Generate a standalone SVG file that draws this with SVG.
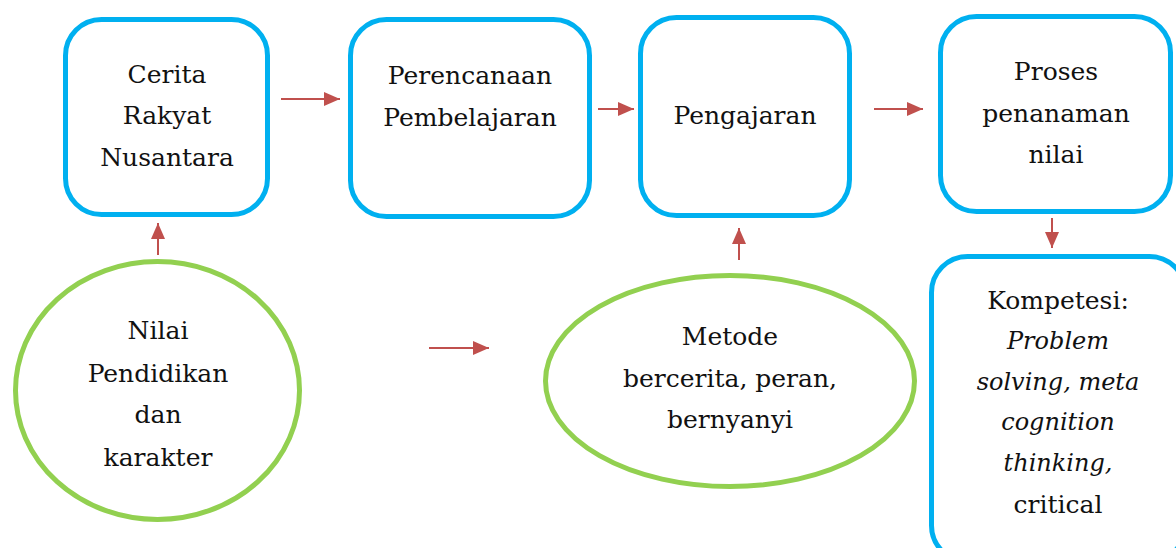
<svg xmlns="http://www.w3.org/2000/svg" width="1176" height="548" viewBox="0 0 1176 548">
<style>
.box{fill:#fff;stroke:#00b0f0;stroke-width:5}
.oval{fill:#fff;stroke:#92d050;stroke-width:5}
.t{font-family:"DejaVu Serif","Liberation Serif",serif;font-size:25px;fill:#111;text-anchor:middle}
.i{font-style:italic;font-size:24px}
.c{stroke:#c0504d;stroke-width:2;fill:none;marker-end:url(#ah)}
</style>
<defs>
<marker id="ah" markerUnits="userSpaceOnUse" markerWidth="16" markerHeight="14" refX="16" refY="7" orient="auto">
<path d="M0,0 L16,7 L0,14 z" fill="#c0504d"/>
</marker>
</defs>
<rect width="1176" height="548" fill="#fff"/>
<g id="connectors">
<line class="c" x1="281" y1="99" x2="340" y2="99"/>
<line class="c" x1="598" y1="109" x2="634" y2="109"/>
<line class="c" x1="874" y1="109" x2="923" y2="109"/>
<line class="c" x1="1052" y1="218" x2="1052" y2="248"/>
<line class="c" x1="158" y1="255" x2="158" y2="223"/>
<line class="c" x1="739" y1="260" x2="739" y2="228"/>
<line class="c" x1="429" y1="348" x2="489" y2="348"/>
</g>
<g id="cerita">
<rect class="box" x="65.5" y="19.5" width="202" height="195" rx="36"/>
<text class="t" x="167" y="83">Cerita</text>
<text class="t" x="167" y="124">Rakyat</text>
<text class="t" x="167" y="166">Nusantara</text>
</g>
<g id="perencanaan">
<rect class="box" x="350.5" y="19.5" width="239" height="197" rx="36"/>
<text class="t" x="470" y="84">Perencanaan</text>
<text class="t" x="470" y="126">Pembelajaran</text>
</g>
<g id="pengajaran">
<rect class="box" x="640.5" y="17.5" width="209" height="198" rx="36"/>
<text class="t" x="745" y="124">Pengajaran</text>
</g>
<g id="proses">
<rect class="box" x="940.5" y="16.5" width="230" height="195" rx="36"/>
<text class="t" x="1056" y="80">Proses</text>
<text class="t" x="1056" y="122">penanaman</text>
<text class="t" x="1056" y="163">nilai</text>
</g>
<g id="kompetesi">
<rect class="box" x="931.5" y="256.5" width="254" height="305" rx="36"/>
<text class="t" x="1058" y="309">Kompetesi:</text>
<text class="t i" x="1058" y="349">Problem</text>
<text class="t i" x="1058" y="390">solving, meta</text>
<text class="t i" x="1058" y="430">cognition</text>
<text class="t i" x="1058" y="471">thinking,</text>
<text class="t" x="1058" y="513">critical</text>
</g>
<g id="nilai">
<ellipse class="oval" cx="157.5" cy="390.5" rx="142" ry="129"/>
<text class="t" x="158" y="339">Nilai</text>
<text class="t" x="158" y="382">Pendidikan</text>
<text class="t" x="158" y="423">dan</text>
<text class="t" x="158" y="466">karakter</text>
</g>
<g id="metode">
<ellipse class="oval" cx="730" cy="381" rx="184.5" ry="105.5"/>
<text class="t" x="730" y="345">Metode</text>
<text class="t" x="730" y="387">bercerita, peran,</text>
<text class="t" x="730" y="428">bernyanyi</text>
</g>
</svg>
